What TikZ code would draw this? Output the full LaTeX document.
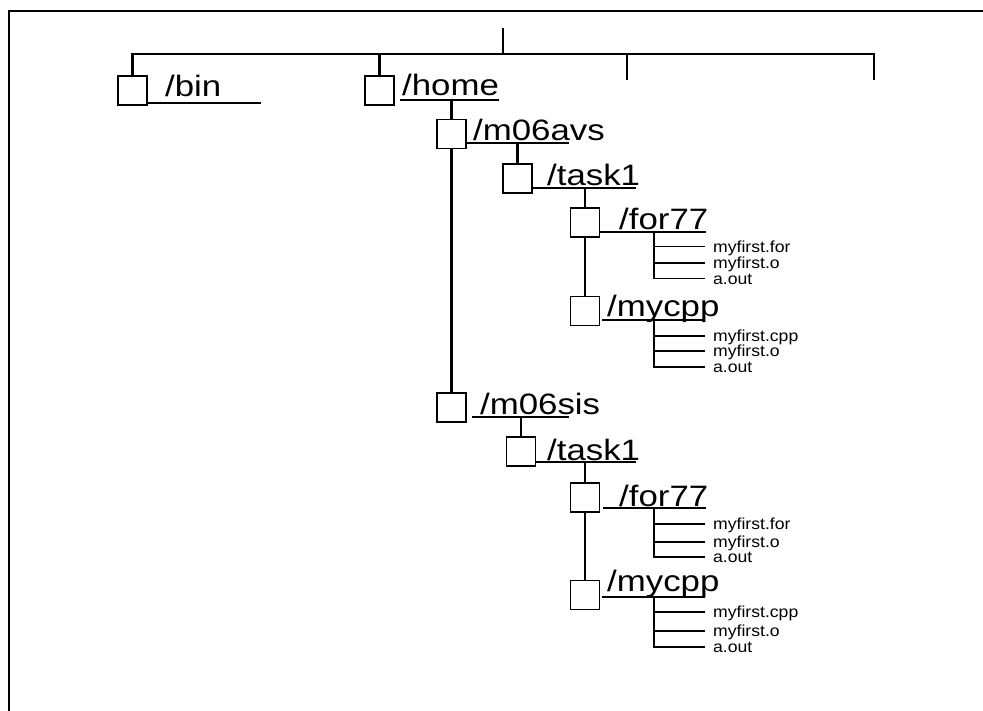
\documentclass[tikz,border=0pt]{standalone}
\usepackage{fontspec}
\setmainfont{Liberation Sans}
\usepackage{graphicx}
\newcommand{\dirtext}[1]{\scalebox{1.18}[1]{#1}}
\newcommand{\filetext}[1]{\scalebox{1.1}[1]{#1}}

\begin{document}
\begin{tikzpicture}[x=1pt, y=-1pt,
	dirbox/.style={draw, fill=white, line width=1.6pt, minimum size=29pt, inner sep=0pt},
	dirname/.style={anchor=base west, inner sep=0pt, font=\fontsize{29.5}{32}\selectfont},
	filename/.style={anchor=west, inner sep=0pt, text height=11.5pt, text depth=0pt, font=\fontsize{16}{18}\selectfont},
	trunk/.style={line width=2.3pt},
	twig/.style={line width=1.4pt}]
	\useasboundingbox (0,0) rectangle (983,711);
	\draw[line width=1.8pt] (9,711) -- (9,11) -- (983,11);

	% top level
	\coordinate (rootTop) at (503,28);
	\coordinate (rootBar) at (503,54);
	\coordinate (free1) at (627,80);
	\coordinate (free2) at (874,80);
	\node[dirbox] (bin) at (132.5,90.5) {};
	\node[dirname] (binl) at (165,97) {\dirtext{/bin}};
	\node[dirbox] (home) at (379.5,90.5) {};
	\node[dirname] (homel) at (402,96) {\dirtext{/home}};
	\draw[trunk] (rootTop) -- (rootBar);
	\draw[trunk] (bin.north) |- (free2 |- rootBar) -- (free2);
	\draw[trunk] (home.north) -- (home.north |- rootBar);
	\draw[trunk] (free1) -- (free1 |- rootBar);
	\draw[trunk] (bin.east |- 0,103) -- (261,103);
	\draw[trunk] (400,100) -- (homel.east |- 0,100);

	% /home/m06avs
	\node[dirbox] (avs) at (451.5,134) {};
	\node[dirname] (avsl) at (473,141) {\dirtext{/m06avs}};
	\node[dirbox] (task) at (517.5,178.5) {};
	\node[dirname] (taskl) at (547,186) {\dirtext{/task1}};
	\node[dirbox] (for) at (585,222.5) {};
	\node[dirname] (forl) at (619,230) {\dirtext{/for77}};
	\node[dirbox] (cpp) at (585,311) {};
	\node[dirname] (cppl) at (607,317) {\dirtext{/mycpp}};
	\draw[trunk] (avs.north) -- (avs.north |- 0,100);
	\draw[trunk] (avs.east |- 0,143) -- (569,143);
	\draw[trunk] (task.north) -- (task.north |- 0,143);
	\draw[trunk] (task.east |- 0,188) -- (636,188);
	\draw[trunk] (for.north) -- (for.north |- 0,188);
	\draw[trunk] (for.east |- 0,232) -- (706,232);
	\draw[trunk] (for.south) -- (cpp.north);
	\draw[trunk] (602,320) -- (705,320);

	\coordinate (forfork) at (654,232);
	\node[filename] (fa1) at (713,246.5) {\filetext{myfirst.for}};
	\node[filename] (fa2) at (713,263) {\filetext{myfirst.o}};
	\node[filename] (fa3) at (713,278.5) {\filetext{a.out}};
	\draw[twig] (forfork) |- ([xshift=-8pt]fa3.west);
	\draw[twig] (forfork |- fa1.west) -- ([xshift=-8pt]fa1.west);
	\draw[twig] (forfork |- fa2.west) -- ([xshift=-8pt]fa2.west);

	\coordinate (cppfork) at (654,320);
	\node[filename] (ca1) at (713,336) {\filetext{myfirst.cpp}};
	\node[filename] (ca2) at (713,351) {\filetext{myfirst.o}};
	\node[filename] (ca3) at (713,367) {\filetext{a.out}};
	\draw[twig] (cppfork) |- ([xshift=-8pt]ca3.west);
	\draw[twig] (cppfork |- ca1.west) -- ([xshift=-8pt]ca1.west);
	\draw[twig] (cppfork |- ca2.west) -- ([xshift=-8pt]ca2.west);

	% /home/m06sis
	\node[dirbox] (sis) at (451.5,407.5) {};
	\node[dirname] (sisl) at (480,414) {\dirtext{/m06sis}};
	\node[dirbox] (taskb) at (521,451.5) {};
	\node[dirname] (tasklb) at (547,460) {\dirtext{/task1}};
	\node[dirbox] (forb) at (585,497.5) {};
	\node[dirname] (forlb) at (619,506) {\dirtext{/for77}};
	\node[dirbox] (cppb) at (585,595) {};
	\node[dirname] (cpplb) at (607,591) {\dirtext{/mycpp}};
	\draw[trunk] (avs.south) -- (sis.north);
	\draw[trunk] (472,417) -- (569,417);
	\draw[trunk] (taskb.north) -- (taskb.north |- 0,417);
	\draw[trunk] (taskb.east |- 0,462) -- (636,462);
	\draw[trunk] (forb.north) -- (forb.north |- 0,462);
	\draw[trunk] (603,508) -- (706,508);
	\draw[trunk] (forb.south) -- (cppb.north);
	\draw[trunk] (602,597) -- (705,597);

	\coordinate (forforkb) at (654,508);
	\node[filename] (fb1) at (713,524) {\filetext{myfirst.for}};
	\node[filename] (fb2) at (713,542) {\filetext{myfirst.o}};
	\node[filename] (fb3) at (713,557) {\filetext{a.out}};
	\draw[twig] (forforkb) |- ([xshift=-8pt]fb3.west);
	\draw[twig] (forforkb |- fb1.west) -- ([xshift=-8pt]fb1.west);
	\draw[twig] (forforkb |- fb2.west) -- ([xshift=-8pt]fb2.west);

	\coordinate (cppforkb) at (654,597);
	\node[filename] (cb1) at (713,612) {\filetext{myfirst.cpp}};
	\node[filename] (cb2) at (713,631) {\filetext{myfirst.o}};
	\node[filename] (cb3) at (713,647) {\filetext{a.out}};
	\draw[twig] (cppforkb) |- ([xshift=-8pt]cb3.west);
	\draw[twig] (cppforkb |- cb1.west) -- ([xshift=-8pt]cb1.west);
	\draw[twig] (cppforkb |- cb2.west) -- ([xshift=-8pt]cb2.west);
\end{tikzpicture}
\end{document}
